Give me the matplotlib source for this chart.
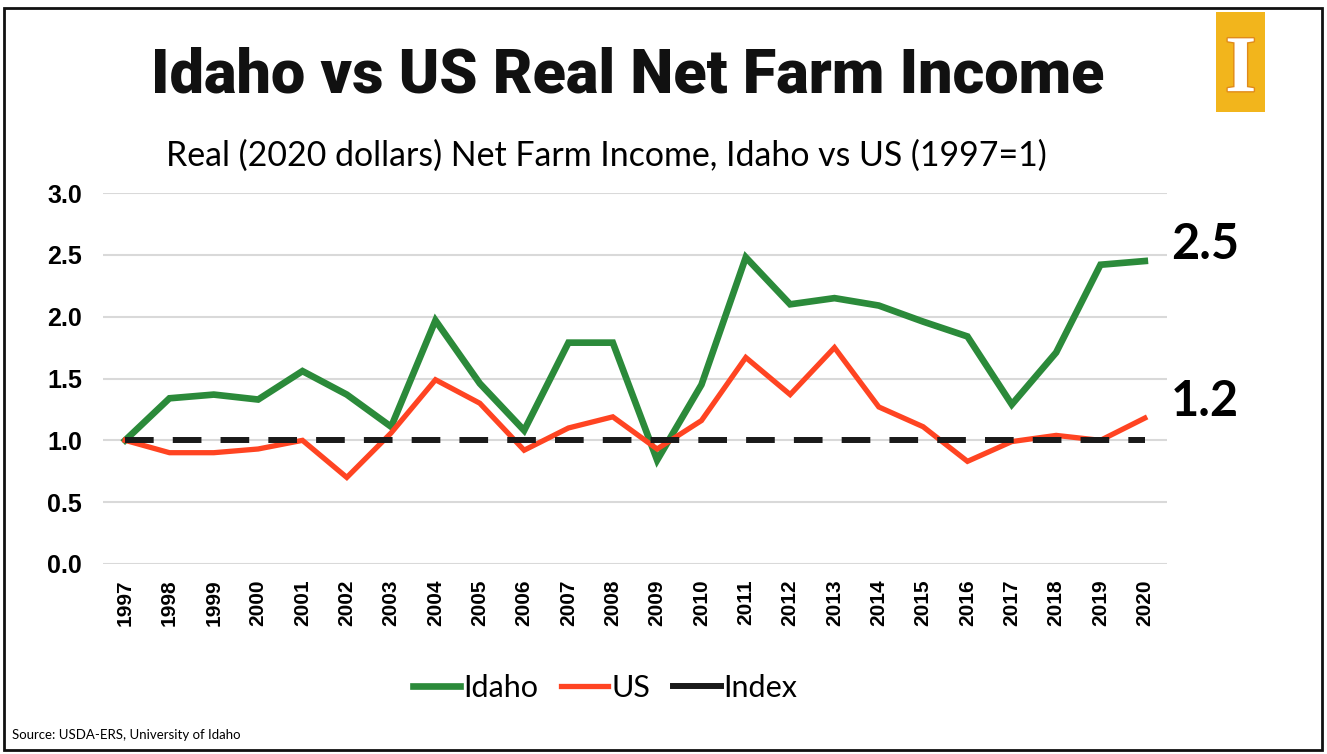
import matplotlib.pyplot as plt
from matplotlib.patches import Rectangle
import matplotlib.patheffects as pe

# Real net farm income indexed to 1997 = 1
years = [str(y) for y in range(1997, 2021)]
idaho = [1.00, 1.34, 1.37, 1.33, 1.56, 1.37, 1.11, 1.97, 1.46, 1.08, 1.79, 1.79,
         0.84, 1.45, 2.48, 2.10, 2.15, 2.09, 1.96, 1.84, 1.29, 1.71, 2.42, 2.45]
us = [1.00, 0.90, 0.90, 0.93, 1.00, 0.70, 1.06, 1.49, 1.30, 0.92, 1.10, 1.19,
      0.93, 1.16, 1.67, 1.37, 1.75, 1.27, 1.11, 0.83, 0.99, 1.04, 1.00, 1.18]
index = [1.0] * len(years)

green = '#2b8a3a'
red = '#ff4422'

fig = plt.figure(figsize=(13.27, 7.54), dpi=100)
ax = fig.add_axes([0.0776, 0.252, 0.8018, 0.492])

x = range(len(years))
ax.plot(x, idaho, color=green, lw=4.8, label='Idaho', solid_joinstyle='miter')
ax.plot(x, us, color=red, lw=3.8, label='US', solid_joinstyle='miter')
ax.plot(x, index, color='#1a1a1a', lw=4.3, dashes=(4.8, 3.2), label='Index')

ax.set_xlim(-0.5, len(years) - 0.5)
ax.set_ylim(0, 3)
ax.set_yticks([0, 0.5, 1.0, 1.5, 2.0, 2.5, 3.0])
ax.set_yticklabels([f'{v:.1f}' for v in ax.get_yticks()],
                   fontsize=18, fontweight='bold', family='Liberation Sans')
ax.set_xticks(list(x))
ax.set_xticklabels(years, rotation=90, fontsize=15, fontweight='bold',
                   family='Liberation Sans')
ax.tick_params(axis='y', length=0, pad=15)
ax.tick_params(axis='x', length=0, pad=11)
ax.grid(axis='y', color='#d9d9d9', lw=1.5)
ax.set_axisbelow(True)
for s in ax.spines.values():
    s.set_visible(False)

# end-of-series value labels
for series in (idaho, us):
    ax.annotate(f'{series[-1]:.1f}', xy=(len(years) - 1, series[-1]),
                xytext=(19, 12), textcoords='offset points', ha='left', va='center',
                fontsize=35, fontweight='bold', family='Lato', annotation_clip=False)

fig.text(0.473, 0.9, 'Idaho vs US Real Net Farm Income', ha='center', va='center',
         fontsize=44, fontweight='black', family='Roboto', color='#111111')
fig.text(0.457, 0.794, 'Real (2020 dollars) Net Farm Income, Idaho vs US (1997=1)',
         ha='center', va='center', fontsize=24.4, family='Lato')

leg = fig.legend(loc='center', bbox_to_anchor=(0.456, 0.0875), ncol=3, frameon=False,
                 prop={'family': 'Lato', 'size': 22}, handlelength=1.55,
                 handletextpad=0.1, columnspacing=0.75)
leg.get_lines()[2].set_linestyle('-')

fig.text(0.009, 0.025, 'Source: USDA-ERS, University of Idaho', ha='left',
         va='center', fontsize=9.5, family='Lato')

# logo block
fig.patches.append(Rectangle((0.9163, 0.8515), 0.0369, 0.1326, transform=fig.transFigure,
                             facecolor='#f2b51c', edgecolor='none'))
fig.text(0.935, 0.905, 'I', ha='center', va='center', fontsize=58, fontweight='bold',
         family='Liberation Serif', color='white',
         path_effects=[pe.withStroke(linewidth=2, foreground='#e08a1a')])

# page frame
fig.patches.append(Rectangle((0.003, 0.005), 0.993, 0.984, transform=fig.transFigure,
                             facecolor='none', edgecolor='#111111', lw=2))

fig.savefig('out.png', dpi=100)
